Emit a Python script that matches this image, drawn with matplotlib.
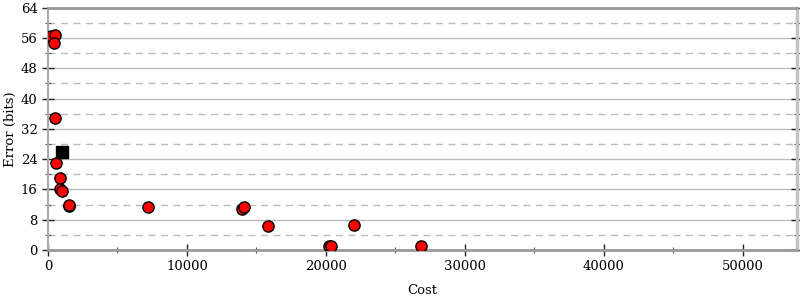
import matplotlib
matplotlib.use('Agg')
import matplotlib.pyplot as plt
from matplotlib.ticker import MultipleLocator

# red points (cost, error bits)
cost = [216, 504, 432, 504, 576, 863, 863, 1007, 1500, 1480, 7194,
        13935, 14079, 15850, 20240, 20380, 22040, 26860]
error = [56.6, 56.9, 54.8, 34.9, 23.0, 19.0, 16.1, 15.6, 11.6, 11.9, 11.4,
         10.8, 11.3, 6.4, 1.1, 1.1, 6.5, 0.9]

# initial program (black square)
init_cost = [1007]
init_error = [25.9]

plt.rcParams['font.family'] = 'DejaVu Serif'
plt.rcParams['font.size'] = 9.5

fig = plt.figure(figsize=(8, 3), dpi=100)
ax = fig.add_axes([0.06, 0.167, 0.936, 0.807])

ax.set_xlim(0, 53900)
ax.set_ylim(0, 64)

ax.yaxis.set_major_locator(MultipleLocator(8))
ax.yaxis.set_minor_locator(MultipleLocator(4))
ax.xaxis.set_major_locator(MultipleLocator(10000))
ax.xaxis.set_minor_locator(MultipleLocator(5000))

ax.grid(True, which='major', axis='y', color='#bbbbbb', linewidth=1, linestyle='-')
ax.grid(True, which='minor', axis='y', color='#bbbbbb', linewidth=1, linestyle=(0, (5, 4)))
ax.set_axisbelow(True)

for s in ['bottom', 'top']:
    ax.spines[s].set_color('#999999')
    ax.spines[s].set_linewidth(2)
ax.spines['left'].set_color('#aaaaaa')
ax.spines['left'].set_linewidth(1.5)
ax.spines['right'].set_color('#c4c4c4')
ax.spines['right'].set_linewidth(2.5)

ax.tick_params(axis='both', which='major', direction='inout', length=8, width=1, color='#222222')
ax.tick_params(axis='both', which='minor', direction='inout', length=5, width=0.8, color='#555555')
ax.tick_params(axis='y', which='both', right=True)

ax.scatter(cost, error, s=65, c='#ff0000', edgecolors='#000000', linewidths=1, zorder=3)
ax.scatter(init_cost, init_error, s=75, c='#000000', marker='s', zorder=4)

ax.set_xlabel('Cost', labelpad=8)
ax.set_ylabel('Error (bits)', labelpad=3)

fig.savefig('out.png', dpi=100)
